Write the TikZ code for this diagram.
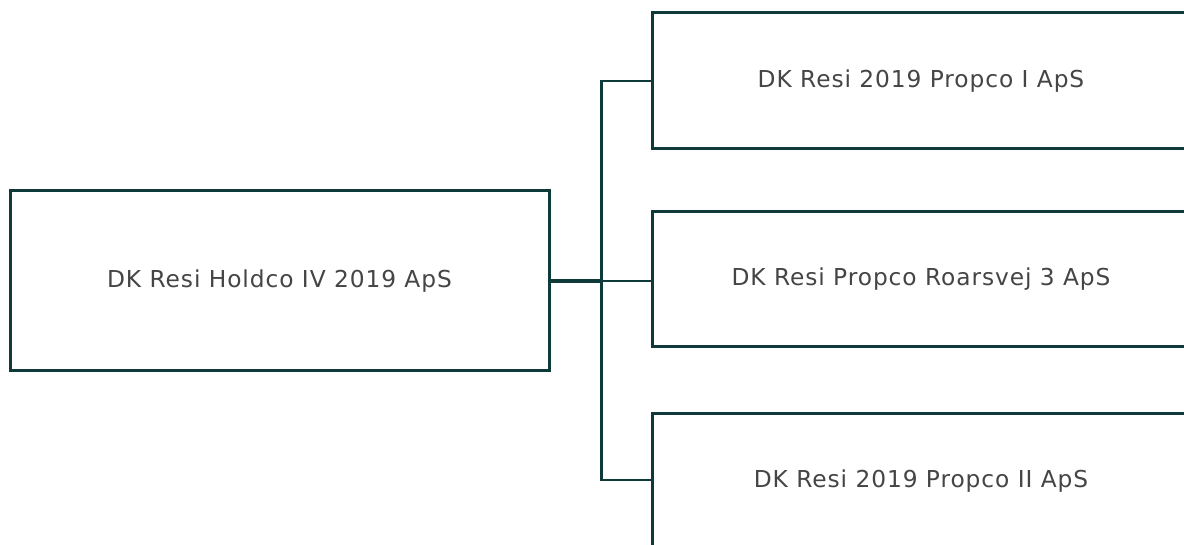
\documentclass[tikz,border=0pt]{standalone}
\usepackage{fontspec}
\setmainfont[LetterSpace=4]{DejaVu Sans}
\definecolor{edge}{HTML}{0E3B3A}
\definecolor{txt}{HTML}{454545}
\begin{document}
\begin{tikzpicture}[x=1pt,y=-1pt,
  box/.style={draw=edge, line width=3pt, inner sep=0pt, text=txt, font=\fontsize{23.3}{27}\selectfont},
  link/.style={draw=edge, line width=2.5pt, line join=miter},
  mainlink/.style={draw=edge, line width=3.4pt}]
\fill[white] (0,0) rectangle (1184,545);
\useasboundingbox (0,0) rectangle (1184,545);
\clip (0,0) rectangle (1184,545);
\node[box, minimum width=539pt, minimum height=180pt] (L) at (279.5,281) {DK Resi Holdco IV 2019 ApS};
\node[box, minimum width=538pt, minimum height=136pt] (A) at (921,81) {DK Resi 2019 Propco I ApS};
\node[box, minimum width=538pt, minimum height=135pt] (B) at (921,279.5) {DK Resi Propco Roarsvej 3 ApS};
\node[box, minimum width=538pt, minimum height=136pt] (C) at (921,481) {DK Resi 2019 Propco II ApS};
\coordinate (j) at (601.5,281);
\coordinate (jt) at (601.5,81);
\coordinate (jb) at (601.5,480);
\draw[mainlink] (L.east) -- (j);
\draw[link] (jt -| A.west) -- (jt) -- (jb) -- (jb -| C.west);
\draw[link] (j) -- (j -| B.west);
\end{tikzpicture}
\end{document}
